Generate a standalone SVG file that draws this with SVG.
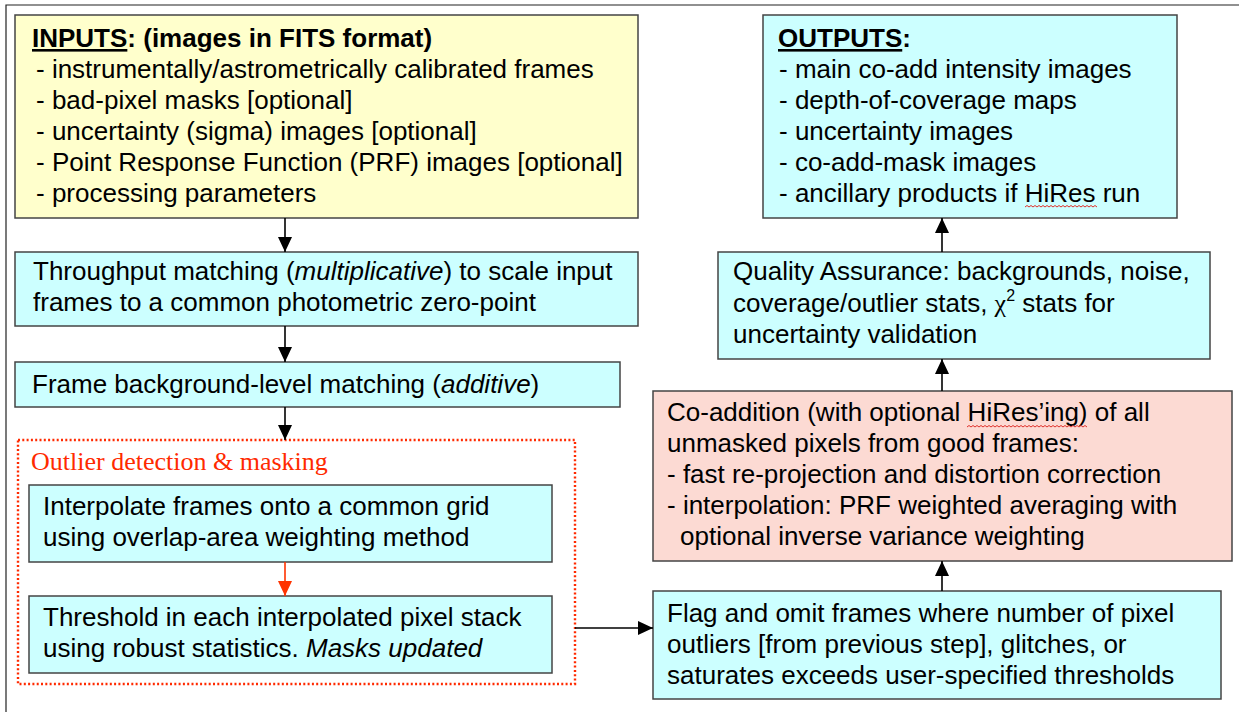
<svg xmlns="http://www.w3.org/2000/svg" width="1239" height="712" viewBox="0 0 1239 712">
<defs>
<style>
text{font-family:"Liberation Sans",Arial,Helvetica,sans-serif;font-size:26px;fill:#000}
.b{font-weight:bold}
.i{font-style:italic}
.box{stroke:#444;stroke-width:1.5}
.yel{fill:#FFFFCC}
.cy{fill:#CCFFFF}
.pk{fill:#FCDAD3}
.red{font-family:"Liberation Serif","Times New Roman",serif;fill:#FF2A00}
.conn{stroke:#000;stroke-width:1.6;fill:none}
.sq{stroke:#E0302A;stroke-width:1;fill:none}
</style>
<marker id="ah" viewBox="0 0 15 14" refX="15" refY="7" markerWidth="15" markerHeight="14" markerUnits="userSpaceOnUse" orient="auto"><path d="M0,0 L15,7 L0,14 z" fill="#000"/></marker>
<marker id="ahr" viewBox="0 0 15 14" refX="15" refY="7" markerWidth="15" markerHeight="14" markerUnits="userSpaceOnUse" orient="auto"><path d="M0,0 L15,7 L0,14 z" fill="#FF3300"/></marker>
</defs>
<rect width="1239" height="712" fill="#fff"/>
<path d="M6,712 V5 H1239" fill="none" stroke="#222" stroke-width="1.2"/>

<g id="inputs">
<rect class="box yel" x="15" y="15" width="623" height="203"/>
<text x="32" y="47" class="b"><tspan text-decoration="underline">INPUTS</tspan>: (images in FITS format)</text>
<text x="36" y="78">- instrumentally/astrometrically calibrated frames</text>
<text x="36" y="109">- bad-pixel masks [optional]</text>
<text x="36" y="140">- uncertainty (sigma) images [optional]</text>
<text x="36" y="171">- Point Response Function (PRF) images [optional]</text>
<text x="36" y="202">- processing parameters</text>
</g>

<g id="outputs">
<rect class="box cy" x="763" y="15" width="414" height="203"/>
<text x="778" y="47" class="b"><tspan text-decoration="underline">OUTPUTS</tspan>:</text>
<text x="779" y="78">- main co-add intensity images</text>
<text x="779" y="109">- depth-of-coverage maps</text>
<text x="779" y="140">- uncertainty images</text>
<text x="779" y="171">- co-add-mask images</text>
<text x="779" y="202">- ancillary products if HiRes run</text>
<path class="sq" d="M1025,207 l2,-1.5 l2,1.5 l2,-1.5 l2,1.5 l2,-1.5 l2,1.5 l2,-1.5 l2,1.5 l2,-1.5 l2,1.5 l2,-1.5 l2,1.5 l2,-1.5 l2,1.5 l2,-1.5 l2,1.5 l2,-1.5 l2,1.5 l2,-1.5 l2,1.5 l2,-1.5 l2,1.5 l2,-1.5 l2,1.5 l2,-1.5 l2,1.5 l2,-1.5 l2,1.5 l2,-1.5 l2,1.5 l2,-1.5 l2,1.5 l2,-1.5 l2,1.5 l2,-1.5 l2,1.5"/>
</g>

<g id="throughput">
<rect class="box cy" x="15" y="252" width="623" height="74"/>
<text x="33" y="280">Throughput matching (<tspan class="i">multiplicative</tspan>) to scale input</text>
<text x="33" y="311">frames to a common photometric zero-point</text>
</g>

<g id="background">
<rect class="box cy" x="15" y="362" width="605" height="45"/>
<text x="32" y="393">Frame background-level matching (<tspan class="i">additive</tspan>)</text>
</g>

<g id="outlier">
<rect x="18" y="440" width="557" height="244" fill="none" stroke="#FF2A00" stroke-width="2.4" stroke-dasharray="2 2.3"/>
<text x="31" y="470" class="red">Outlier detection &amp; masking</text>
</g>

<g id="interpolate">
<rect class="box cy" x="29" y="485" width="523" height="77"/>
<text x="43" y="515">Interpolate frames onto a common grid</text>
<text x="43" y="546">using overlap-area weighting method</text>
</g>

<g id="threshold">
<rect class="box cy" x="29" y="596" width="523" height="77"/>
<text x="43" y="626">Threshold in each interpolated pixel stack</text>
<text x="43" y="657">using robust statistics. <tspan class="i">Masks updated</tspan></text>
</g>

<g id="flag">
<rect class="box cy" x="653" y="591" width="568" height="108"/>
<text x="667" y="622">Flag and omit frames where number of pixel</text>
<text x="667" y="653">outliers [from previous step], glitches, or</text>
<text x="667" y="684">saturates exceeds user-specified thresholds</text>
</g>

<g id="coadd">
<rect class="box pk" x="653" y="391" width="579" height="170"/>
<text x="667" y="421">Co-addition (with optional HiRes’ing) of all</text>
<text x="667" y="452">unmasked pixels from good frames:</text>
<text x="667" y="483">- fast re-projection and distortion correction</text>
<text x="667" y="514">- interpolation: PRF weighted averaging with</text>
<text x="680" y="545">optional inverse variance weighting</text>
<path class="sq" d="M967,427 l2,-1.5 l2,1.5 l2,-1.5 l2,1.5 l2,-1.5 l2,1.5 l2,-1.5 l2,1.5 l2,-1.5 l2,1.5 l2,-1.5 l2,1.5 l2,-1.5 l2,1.5 l2,-1.5 l2,1.5 l2,-1.5 l2,1.5 l2,-1.5 l2,1.5 l2,-1.5 l2,1.5 l2,-1.5 l2,1.5 l2,-1.5 l2,1.5 l2,-1.5 l2,1.5 l2,-1.5 l2,1.5 l2,-1.5 l2,1.5 l2,-1.5 l2,1.5 l2,-1.5 l2,1.5 l2,-1.5 l2,1.5 l2,-1.5 l2,1.5 l2,-1.5 l2,1.5 l2,-1.5 l2,1.5 l2,-1.5 l2,1.5 l2,-1.5 l2,1.5 l2,-1.5 l2,1.5 l2,-1.5 l2,1.5 l2,-1.5 l2,1.5 l2,-1.5 l2,1.5 l2,-1.5 l2,1.5 l2,-1.5 l2,1.5"/>
</g>

<g id="qa">
<rect class="box cy" x="718" y="252" width="492" height="107"/>
<text x="733" y="280">Quality Assurance: backgrounds, noise,</text>
<text x="733" y="312">coverage/outlier stats, <tspan font-family="'Liberation Serif','DejaVu Serif',serif">χ</tspan><tspan font-size="16" dy="-11">2</tspan><tspan dy="11"> stats for</tspan></text>
<text x="733" y="343">uncertainty validation</text>
</g>

<g id="connectors">
<line class="conn" x1="285" y1="218" x2="285" y2="252" marker-end="url(#ah)"/>
<line class="conn" x1="285" y1="326" x2="285" y2="362" marker-end="url(#ah)"/>
<line class="conn" x1="285" y1="407" x2="285" y2="440" marker-end="url(#ah)"/>
<line x1="285" y1="562" x2="285" y2="596" stroke="#FF3300" stroke-width="1.6" marker-end="url(#ahr)"/>
<line class="conn" x1="575" y1="628" x2="653" y2="628" marker-end="url(#ah)"/>
<line class="conn" x1="942" y1="591" x2="942" y2="561" marker-end="url(#ah)"/>
<line class="conn" x1="942" y1="391" x2="942" y2="359" marker-end="url(#ah)"/>
<line class="conn" x1="942" y1="252" x2="942" y2="218" marker-end="url(#ah)"/>
</g>
</svg>
